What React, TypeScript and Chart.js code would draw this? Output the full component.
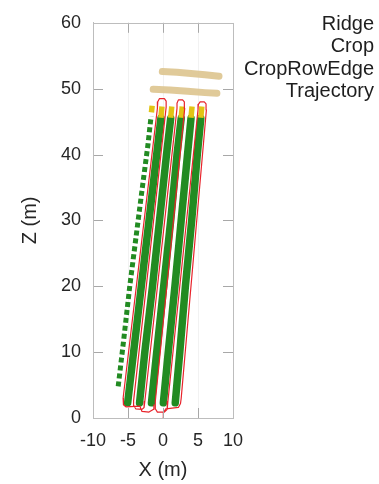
import React, { useEffect, useRef } from "react";
import { Chart, registerables } from "chart.js";

Chart.register(...registerables);

const X_TICKS = [-10, -5, 0, 5, 10];
const Z_TICKS = [0, 10, 20, 30, 40, 50, 60];
const LEGEND_LABELS = ["Ridge", "Crop", "CropRowEdge", "Trajectory"];

// Ridge bands [x, z]
const RIDGE_UPPER = [[-0.1, 52.6], [2.0, 52.5], [4.0, 52.3], [6.0, 52.1], [8.0, 51.9]];
const RIDGE_LOWER = [[-1.4, 49.9], [1.0, 49.8], [3.5, 49.6], [6.0, 49.4], [7.7, 49.3]];

// Crop rows [x, z]
const CROP_ROW_0 = [[-6.4, 4.8], [-5.6, 12], [-4.75, 20], [-3.85, 27.5], [-2.95, 35], [-2.15, 41.5], [-1.7, 45.8]];
const CROP_ROW_1 = [[-5.05, 2.3], [-4.2, 10], [-3.1, 20], [-2.0, 30], [-0.9, 40], [-0.3, 45.5]];
const CROP_ROW_2 = [[-3.35, 2.3], [-2.6, 10], [-1.5, 20], [-0.5, 30], [0.5, 40], [1.1, 45.5]];
const CROP_ROW_3 = [[-1.65, 2.3], [-0.9, 10], [0.1, 20], [1.1, 30], [2.0, 40], [2.6, 45.5]];
const CROP_ROW_4 = [[0.05, 2.3], [0.75, 10], [1.7, 20], [2.6, 30], [3.5, 40], [4.0, 45.5]];
const CROP_ROW_5 = [[1.75, 2.3], [2.4, 10], [3.2, 20], [4.1, 30], [4.9, 40], [5.4, 45.5]];

// Crop row edges (top ends) [x, z]
const EDGE_0 = [[-1.65, 46.4], [-1.55, 47.4]];
const EDGE_1 = [[-0.3, 45.6], [-0.15, 47.3]];
const EDGE_2 = [[1.1, 45.6], [1.25, 47.3]];
const EDGE_3 = [[2.6, 45.6], [2.75, 47.3]];
const EDGE_4 = [[4.0, 45.6], [4.15, 47.3]];
const EDGE_5 = [[5.4, 45.6], [5.55, 47.3]];

// Vehicle trajectory [x, z]
const TRAJECTORY = [
  [0.0, 0.0], [0.05, 0.8], [0.4, 1.4], [2.2, 1.6], [2.5, 2.2], [2.6, 3.0],
  [6.2, 46.8], [6.15, 47.7], [5.9, 48.0], [5.3, 48.0], [5.05, 47.6], [5.0, 46.8],
  [0.7, 2.5], [0.6, 1.3], [0.2, 0.9], [-0.8, 0.9], [-1.1, 1.4], [-1.1, 2.5],
  [3.1, 47.0], [3.05, 48.0], [2.8, 48.3], [2.2, 48.3], [2.0, 47.8], [2.0, 47.0],
  [-2.6, 2.5], [-2.7, 1.6], [-3.0, 1.3], [-3.9, 1.4], [-4.2, 1.9], [-4.2, 2.6],
  [0.45, 47.2], [0.45, 48.1], [0.2, 48.5], [-0.5, 48.5], [-0.75, 48.0], [-0.8, 47.0],
  [-5.7, 3.0], [-5.65, 2.0], [-5.3, 1.7], [-3.3, 1.8], [-3.0, 1.0], [-2.0, 0.9],
  [-1.4, 1.3], [-1.3, 2.0],
];

const FONT = '"Liberation Sans", Arial, sans-serif';
const TEXT = "#262626";

const pts = (a: number[][]) => a.map(([x, y]) => ({ x, y }));

const lineDs = (label: string, data: number[][], color: string, width: number, extra: any = {}) => ({
  label,
  data: pts(data),
  showLine: true,
  borderColor: color,
  backgroundColor: color,
  borderWidth: width,
  pointRadius: 0,
  pointHoverRadius: 0,
  tension: 0,
  borderCapStyle: "round",
  borderJoinStyle: "round",
  ...extra,
});

const frameAndTicks = {
  id: "frameAndTicks",
  afterDraw(chart: any) {
    const { ctx, chartArea: a, scales } = chart;
    ctx.save();
    ctx.strokeStyle = "#a8a8a8";
    ctx.lineWidth = 1;
    ctx.beginPath();
    X_TICKS.slice(1, -1).forEach((v) => {
      const px = Math.round(scales.x.getPixelForValue(v)) + 0.5;
      ctx.moveTo(px, a.top);
      ctx.lineTo(px, a.top + 10);
      ctx.moveTo(px, a.bottom);
      ctx.lineTo(px, a.bottom - 10);
    });
    Z_TICKS.slice(1, -1).forEach((v) => {
      const py = Math.round(scales.y.getPixelForValue(v)) + 0.5;
      ctx.moveTo(a.left, py);
      ctx.lineTo(a.left + 10, py);
      ctx.moveTo(a.right, py);
      ctx.lineTo(a.right - 10, py);
    });
    ctx.stroke();
    ctx.strokeStyle = "#bdbdbd";
    ctx.strokeRect(
      Math.round(a.left) + 0.5,
      Math.round(a.top) + 0.5,
      Math.round(a.right - a.left),
      Math.round(a.bottom - a.top)
    );
    ctx.restore();
  },
};

const textLegend = {
  id: "textLegend",
  afterDraw(chart: any) {
    const { ctx } = chart;
    ctx.save();
    ctx.font = `20px ${FONT}`;
    ctx.fillStyle = "#1e1e1e";
    ctx.textAlign = "right";
    ctx.textBaseline = "alphabetic";
    LEGEND_LABELS.forEach((t, i) => {
      ctx.fillText(t, 374, 29.5 + i * 22.6);
    });
    ctx.restore();
  },
};

export default function App() {
  const ref = useRef<HTMLCanvasElement | null>(null);

  useEffect(() => {
    if (!ref.current) return;
    const RED = "#e8232b";
    const GREEN = "#228b22";
    const YELLOW = "#e2c414";
    const TAN = "rgba(221,196,142,0.9)";
    const datasets: any[] = [
      lineDs("Trajectory", TRAJECTORY, RED, 1.2),
      ...[EDGE_0, EDGE_1, EDGE_2, EDGE_3, EDGE_4, EDGE_5].map((e) =>
        lineDs("CropRowEdge", e, YELLOW, 5.5, { borderCapStyle: "butt" })
      ),
      lineDs("Crop", CROP_ROW_0, GREEN, 5, { borderDash: [5, 3], borderCapStyle: "butt" }),
      ...[CROP_ROW_1, CROP_ROW_2, CROP_ROW_3, CROP_ROW_4, CROP_ROW_5].map((r) =>
        lineDs("Crop", r, GREEN, 7.5)
      ),
      lineDs("Ridge", RIDGE_UPPER, TAN, 7),
      lineDs("Ridge", RIDGE_LOWER, TAN, 7),
    ];

    const chart = new Chart(ref.current, {
      type: "scatter",
      data: { datasets },
      plugins: [frameAndTicks, textLegend],
      options: {
        responsive: false,
        animation: false,
        devicePixelRatio: 1,
        layout: { padding: { left: 0, top: 21, right: 146, bottom: 0 } },
        plugins: { legend: { display: false }, tooltip: { enabled: false } },
        scales: {
          x: {
            type: "linear",
            position: "bottom",
            min: -10,
            max: 10,
            afterBuildTicks: (s: any) => {
              s.ticks = X_TICKS.map((v) => ({ value: v }));
            },
            afterFit: (s: any) => {
              s.height = 66;
            },
            ticks: { font: { family: FONT, size: 18 }, color: TEXT, padding: 12, maxRotation: 0 },
            grid: { color: "rgba(0,0,0,0.05)", drawTicks: false },
            border: { color: "#bdbdbd" },
            title: {
              display: true,
              text: "X (m)",
              font: { family: FONT, size: 20 },
              color: TEXT,
              padding: { top: 0, bottom: 2 },
            },
          },
          y: {
            type: "linear",
            position: "left",
            min: 0,
            max: 60,
            afterBuildTicks: (s: any) => {
              s.ticks = Z_TICKS.map((v) => ({ value: v }));
            },
            afterFit: (s: any) => {
              s.width = 93;
            },
            ticks: { font: { family: FONT, size: 18 }, color: TEXT, padding: 12 },
            grid: { color: "rgba(0,0,0,0)", drawTicks: false },
            border: { color: "#bdbdbd" },
            title: {
              display: true,
              text: "Z (m)",
              font: { family: FONT, size: 20 },
              color: TEXT,
              padding: { top: 18, bottom: 0 },
            },
          },
        },
      },
    } as any);

    return () => chart.destroy();
  }, []);

  return (
    <div style={{ position: "absolute", left: 0, top: 0, width: 379, height: 484, background: "#fff" }}>
      <canvas ref={ref} width={379} height={484} style={{ display: "block" }} />
    </div>
  );
}
